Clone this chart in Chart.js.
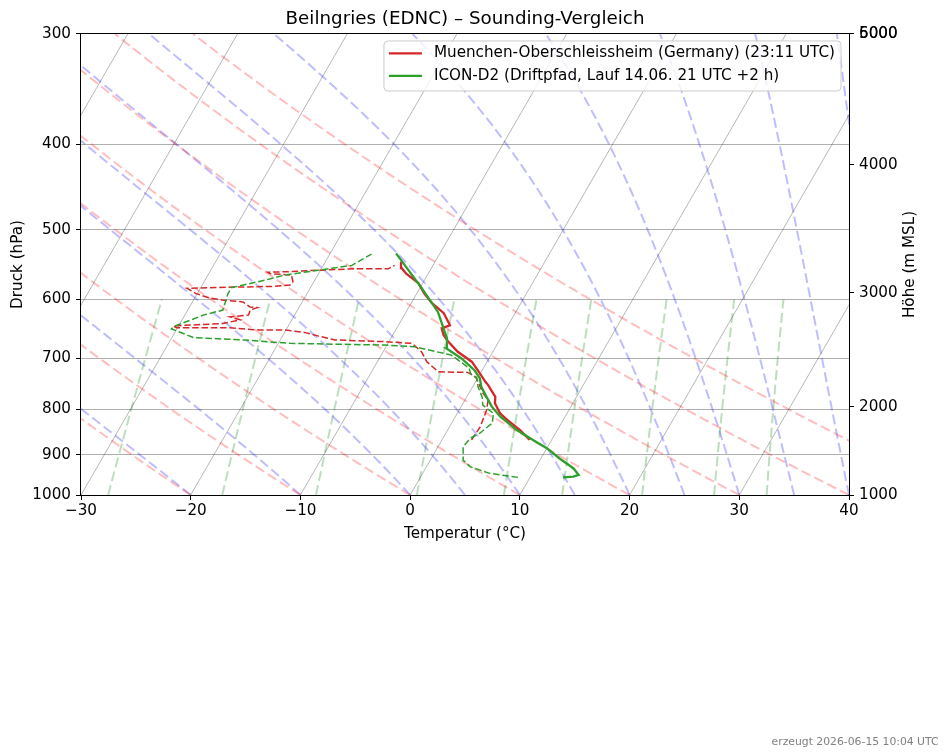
<!DOCTYPE html>
<html>
<head>
<meta charset="utf-8">
<title>Beilngries (EDNC) – Sounding-Vergleich</title>
<script src="https://cdn.jsdelivr.net/npm/chart.js@4.4.1/dist/chart.umd.min.js"></script>
<style>
  html, body { margin: 0; padding: 0; background: #fff; }
  #wrap { position: relative; width: 948px; height: 755px; }
</style>
</head>
<body>
<div id="wrap"><canvas id="skewt" width="948" height="755"></canvas></div>
<script>
// Skew: °C per ln(1000/p), gives 30° isotherms on this plot area
const SKEW = 20.15;

// Axis ticks
const pressureTicks = [300, 400, 500, 600, 700, 800, 900, 1000];
const heightTickPressures = [1000, 794, 590, 422, 300, 300];
const heightTickLabels = ['1000', '2000', '3000', '4000', '5000', '6000'];

// Muenchen-Oberschleissheim (23:11 UTC) - temperature
const obsTempP = [866, 844, 822, 808, 787, 774, 750, 744, 727, 706, 688, 670, 658, 647, 642, 622, 606, 591, 575, 561, 553, 544];
const obsTemp  = [8.0, 6.6, 4.9, 3.9, 2.9, 2.6, 1.3, 0.9, -0.1, -1.4, -3.2, -4.6, -5.4, -5.9, -5.3, -6.5, -8.1, -9.3, -10.4, -12.0, -12.7, -13.1];

// Muenchen-Oberschleissheim - dewpoint
const obsDewP = [866, 837, 801, 780, 767, 735, 726, 725, 706, 688, 673, 670, 669, 667, 660, 654, 650, 650, 646, 646, 643,
                 640, 639, 633, 628, 625, 617, 613, 612, 604, 601, 598, 591, 583, 581, 580, 578, 573, 563, 561, 559, 558, 556, 554, 554, 549];
const obsDew  = [2.7, 2.8, 2.5, 2.1, 1.3, -0.2, -1.2, -3.9, -5.5, -6.5, -7.8, -10.4, -11.9, -15.0, -16.8, -18.2, -20.1, -22.4, -25.5, -30.1, -30.5,
                 -27.2, -26.1, -24.7, -25.8, -24.2, -24.3, -23.8, -24.5, -25.4, -27.4, -28.6, -30.1, -31.2, -26.7, -23.4, -22.0, -21.9, -22.4, -24.4, -24.7, -22.7, -20.2, -17.2, -13.9, -13.5];

// ICON-D2 drift path - temperature
const iconTempP = [955, 953, 949, 933, 909, 885, 866, 844, 815, 794, 774, 754, 737, 722, 700, 682, 664, 620, 583, 532];
const iconTemp  = [13.0, 13.9, 14.3, 13.5, 11.7, 10.0, 8.3, 6.3, 4.1, 2.8, 1.8, 0.8, 0.2, -0.7, -2.5, -4.4, -4.9, -7.1, -9.8, -14.0];

// ICON-D2 drift path - dewpoint
const iconDewP = [955, 945, 929, 913, 882, 862, 851, 829, 808, 791, 774, 754, 737, 728, 718, 694, 679, 676, 675, 673, 667, 663,
                  648, 644, 625, 617, 591, 582, 570, 563, 556, 549, 533];
const iconDew  = [8.9, 6.1, 4.0, 3.0, 2.3, 2.5, 3.1, 3.7, 3.3, 1.9, 1.4, 0.5, -0.1, -0.9, -1.3, -3.6, -7.4, -10.2, -13.3, -18.9, -23.4, -28.0,
                  -30.5, -30.4, -28.3, -26.8, -27.2, -27.2, -24.4, -23.0, -20.2, -17.4, -16.2];

// Background line families
const isothermTemps = [-100, -90, -80, -70, -60, -50, -40, -30, -20, -10, 0, 10, 20, 30, 40];
const dryAdiabatTemps = [-30, -20, -10, 0, 10, 20, 30, 40, 50];
const moistAdiabatTemps = [-30, -20, -10, 0, 5, 10, 15, 20, 25, 30, 35, 40, 45, 50];
const mixingRatios = [0.0004, 0.001, 0.002, 0.004, 0.007, 0.01, 0.016, 0.024, 0.032];

// --- helpers ---
function skew(t, p) {
    return { x: t + SKEW * Math.log(1000 / p), y: p };
}
function profile(ps, ts) {
    return ps.map((p, i) => skew(ts[i], p));
}

const Rd = 287.04749, Cp = 1004.6662, Lv = 2.50084e6, EPS = 0.6219569;
function satVap(tK) {
    return 6.112 * Math.exp(17.67 * (tK - 273.15) / (tK - 29.65));
}
function moistSlope(p, tK) {
    const es = satVap(tK);
    const rs = EPS * es / (p - es);
    return (Rd * tK + Lv * rs) / (Cp + (Lv * Lv * rs * EPS) / (Rd * tK * tK)) / p;
}

function isotherm(t) {
    return [skew(t, 1000), skew(t, 300)];
}
function dryAdiabat(t0) {
    const theta = t0 + 273.15;
    const pts = [];
    for (let p = 1000; p >= 300; p -= 10) {
        pts.push(skew(theta * Math.pow(p / 1000, Rd / Cp) - 273.15, p));
    }
    return pts;
}
function moistAdiabat(t0) {
    const pts = [];
    let tK = t0 + 273.15;
    const h = -5;
    for (let p = 1000; p >= 300; p += h) {
        pts.push(skew(tK - 273.15, p));
        const k1 = moistSlope(p, tK);
        const k2 = moistSlope(p + h / 2, tK + h / 2 * k1);
        const k3 = moistSlope(p + h / 2, tK + h / 2 * k2);
        const k4 = moistSlope(p + h, tK + h * k3);
        tK += h / 6 * (k1 + 2 * k2 + 2 * k3 + k4);
    }
    return pts;
}
function mixingLine(w) {
    const pts = [];
    for (let p = 1000; p >= 600; p -= 10) {
        const e = p * w / (EPS + w);
        const l = Math.log(e / 6.112);
        pts.push(skew(243.5 * l / (17.67 - l), p));
    }
    return pts;
}

function bgLine(data, color, width, dash) {
    return {
        data: data, borderColor: color, borderWidth: width, borderDash: dash,
        pointRadius: 0, fill: false, tension: 0, order: 10
    };
}

// --- datasets ---
const RED = '#d62728', GREEN = '#2ca02c';
const datasets = [
    { label: 'Muenchen-Oberschleissheim (Germany) (23:11 UTC)', data: profile(obsTempP, obsTemp),
      borderColor: RED, borderWidth: 2.3, pointRadius: 0, fill: false, order: 1 },
    { label: '', data: profile(obsDewP, obsDew),
      borderColor: RED, borderWidth: 1.5, borderDash: [6.5, 2.8], pointRadius: 0, fill: false, order: 2 },
    { label: 'ICON-D2 (Driftpfad, Lauf 14.06. 21 UTC +2 h)', data: profile(iconTempP, iconTemp),
      borderColor: GREEN, borderWidth: 2.3, pointRadius: 0, fill: false, order: 0 },
    { label: '', data: profile(iconDewP, iconDew),
      borderColor: GREEN, borderWidth: 1.5, borderDash: [6.5, 2.8], pointRadius: 0, fill: false, order: 0 }
];
isothermTemps.forEach(t => datasets.push(bgLine(isotherm(t), 'rgba(0,0,0,0.32)', 0.9, [])));
dryAdiabatTemps.forEach(t => datasets.push(bgLine(dryAdiabat(t), 'rgba(255,0,0,0.26)', 2, [10, 4.4])));
moistAdiabatTemps.forEach(t => datasets.push(bgLine(moistAdiabat(t), 'rgba(0,0,255,0.26)', 2, [10, 4.4])));
mixingRatios.forEach(w => datasets.push(bgLine(mixingLine(w), 'rgba(0,128,0,0.26)', 2, [10, 4.4])));

// Frame, legend, right axis title, footer
const extras = {
    id: 'extras',
    afterDraw(chart) {
        const { ctx, chartArea: a } = chart;
        ctx.save();
        ctx.strokeStyle = '#000';
        ctx.lineWidth = 1;
        ctx.strokeRect(Math.round(a.left) - 0.5, Math.round(a.top) - 0.5,
                       Math.round(a.right - a.left) + 1, Math.round(a.bottom - a.top) + 1);

        // legend
        ctx.font = '15.2px "DejaVu Sans"';
        const items = chart.data.datasets.filter(d => d.label);
        const textW = Math.max(...items.map(d => ctx.measureText(d.label).width));
        const boxR = a.right - 8, boxT = a.top + 7;
        const boxW = textW + 56, boxH = 50;
        const boxL = boxR - boxW;
        const r = 4;
        ctx.beginPath();
        ctx.moveTo(boxL + r, boxT);
        ctx.arcTo(boxR, boxT, boxR, boxT + boxH, r);
        ctx.arcTo(boxR, boxT + boxH, boxL, boxT + boxH, r);
        ctx.arcTo(boxL, boxT + boxH, boxL, boxT, r);
        ctx.arcTo(boxL, boxT, boxR, boxT, r);
        ctx.closePath();
        ctx.fillStyle = 'rgba(255,255,255,0.8)';
        ctx.fill();
        ctx.strokeStyle = '#cccccc';
        ctx.stroke();
        items.forEach((d, i) => {
            const y = boxT + 12.5 + i * 22.5;
            ctx.strokeStyle = d.borderColor;
            ctx.lineWidth = 2.3;
            ctx.beginPath();
            ctx.moveTo(boxL + 5, y);
            ctx.lineTo(boxL + 38, y);
            ctx.stroke();
            ctx.fillStyle = '#000';
            ctx.textAlign = 'left';
            ctx.textBaseline = 'middle';
            ctx.fillText(d.label, boxL + 50, y);
        });

        // right axis title
        ctx.translate(a.right + 61.5, (a.top + a.bottom) / 2);
        ctx.rotate(-Math.PI / 2);
        ctx.textAlign = 'center';
        ctx.textBaseline = 'middle';
        ctx.fillText('Höhe (m MSL)', 0, 0);
        ctx.restore();

        // footer
        ctx.save();
        ctx.font = '10.8px "DejaVu Sans"';
        ctx.fillStyle = '#808080';
        ctx.textAlign = 'right';
        ctx.textBaseline = 'bottom';
        ctx.fillText('erzeugt 2026-06-15 10:04 UTC', chart.width - 9.5, chart.height - 7);
        ctx.restore();
    }
};

Chart.defaults.font.family = '"DejaVu Sans"';
Chart.defaults.font.size = 15.2;
Chart.defaults.color = '#000';

new Chart(document.getElementById('skewt'), {
    type: 'line',
    data: { datasets: datasets },
    options: {
        responsive: false,
        animation: false,
        devicePixelRatio: 1,
        layout: { padding: { top: 0, left: 0, right: 0, bottom: 210 } },
        plugins: {
            legend: { display: false },
            tooltip: { enabled: false },
            title: {
                display: true,
                fullSize: false,
                text: 'Beilngries (EDNC) – Sounding-Vergleich',
                font: { size: 18.3, weight: 'normal' },
                color: '#000',
                padding: { top: 8, bottom: 4 }
            }
        },
        scales: {
            x: {
                type: 'linear', position: 'bottom', min: -30, max: 40,
                ticks: { stepSize: 10, maxRotation: 0, padding: 2,
                         callback: v => String(v).replace('-', '\u2212') },
                grid: { drawOnChartArea: false, drawTicks: true, tickLength: 5, tickColor: '#000' },
                border: { display: false },
                title: { display: true, text: 'Temperatur (°C)', padding: { top: 0, bottom: 1.8 } },
                afterFit: s => { s.height = 50; }
            },
            y: {
                type: 'logarithmic', position: 'left', reverse: true, min: 300, max: 1000,
                afterBuildTicks: s => { s.ticks = pressureTicks.map(v => ({ value: v })); },
                ticks: { autoSkip: false, padding: 5, callback: v => String(v) },
                grid: { color: '#b0b0b0', lineWidth: 1, tickLength: 5, tickColor: '#000' },
                border: { display: false },
                title: { display: true, text: 'Druck (hPa)', padding: { top: 8.8, bottom: 0 } },
                afterFit: s => { s.width = 81; }
            },
            y2: {
                type: 'logarithmic', position: 'right', reverse: true, min: 300, max: 1000,
                afterBuildTicks: s => { s.ticks = heightTickPressures.map(v => ({ value: v })); },
                ticks: { autoSkip: false, padding: 5, callback: (v, i) => heightTickLabels[i] },
                grid: { drawOnChartArea: false, tickLength: 5, tickColor: '#000' },
                border: { display: false },
                afterFit: s => { s.width = 99; }
            }
        }
    },
    plugins: [extras]
});
</script>
</body>
</html>
